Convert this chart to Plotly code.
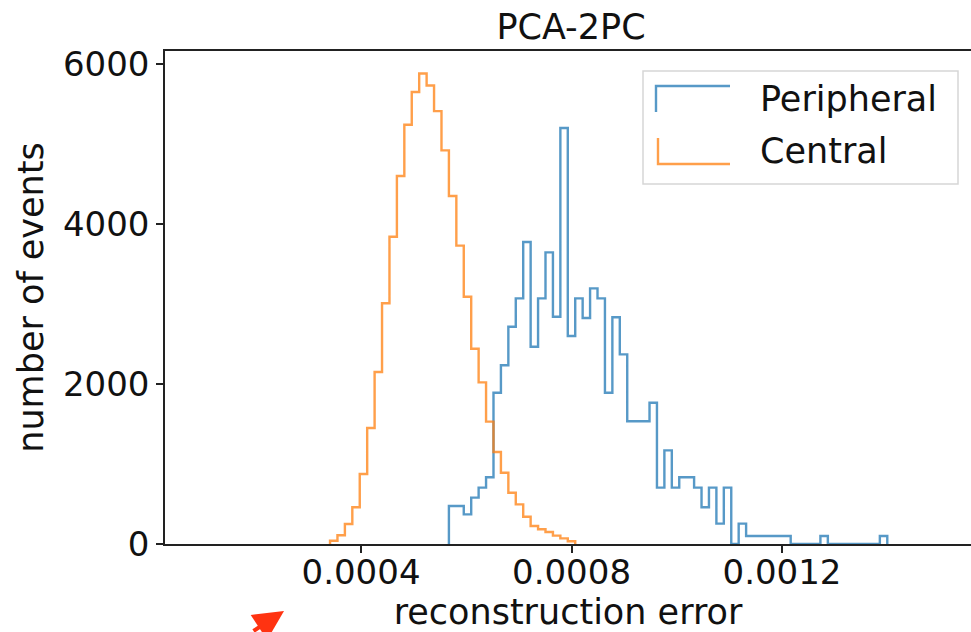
import numpy as np
import plotly.graph_objects as go

# ---------------- data ----------------
title_text = "PCA-2PC"
x_label = "reconstruction error"
y_label = "number of events"
series_names = ["Peripheral", "Central"]

# common histogram grid (reconstruction error)
bin_start = 0.00034109
bin_width = 1.4119e-5

# Central: counts per bin, starting at bin 0
central_first_bin = 0
central_counts = [40, 110, 250, 460, 875, 1450, 2150, 3010, 3840, 4600,
                  5240, 5650, 5880, 5730, 5410, 4920, 4350, 3730, 3090, 2440,
                  2020, 1530, 1150, 890, 640, 495, 340, 225, 185, 150,
                  105, 70, 35]

# Peripheral: counts per bin, starting at bin 16
peripheral_first_bin = 16
peripheral_counts = [475, 475, 370, 580, 705, 835, 1890, 2235, 2715, 3070,
                     3775, 2465, 3070, 3645, 2840, 5200, 2600, 3070, 2825, 3195,
                     3070, 1890, 2835, 2370, 1535, 1535, 1535, 1765, 705, 1170,
                     705, 835, 835, 705, 460, 705, 255, 705, 0, 255,
                     100, 100, 100, 100, 100, 100, 0, 0, 0, 0,
                     100, 0, 0, 0, 0, 0, 0, 0, 100]

x_ticks = [0.0004, 0.0008, 0.0012]
x_tick_labels = ["0.0004", "0.0008", "0.0012"]
y_ticks = [0, 2000, 4000, 6000]
y_tick_labels = ["0", "2000", "4000", "6000"]

# ---------------- styling ----------------
W, H = 971, 632
ML, MR, MT, MB = 165, 0, 51, 88
PW, PH = W - ML - MR, H - MT - MB
FONT = "DejaVu Sans"
BLUE = "rgba(31,119,180,0.75)"
ORANGE = "rgba(255,127,14,0.75)"


def step_outline(first_bin, counts):
    n = len(counts)
    edges = bin_start + bin_width * (first_bin + np.arange(n + 1))
    xs = [edges[0]] + list(edges)
    ys = [0] + list(counts) + [0]
    return xs, ys


def px(xp):
    return (xp - ML) / PW


def py(yp):
    return (MT + PH - yp) / PH


fig = go.Figure()
for name, fb, cnt, col in [("Peripheral", peripheral_first_bin, peripheral_counts, BLUE),
                           ("Central", central_first_bin, central_counts, ORANGE)]:
    xs, ys = step_outline(fb, cnt)
    fig.add_trace(go.Scatter(x=xs, y=ys, mode="lines", name=name,
                             line=dict(color=col, width=2.4, shape="hv"),
                             showlegend=False, hoverinfo="skip"))

# custom legend (matplotlib-like)
shapes = []
shapes.append(dict(type="rect", xref="paper", yref="paper",
                   x0=px(643), x1=px(958), y0=py(184), y1=py(71),
                   line=dict(color="#d6d6d6", width=1.5), fillcolor="rgba(255,255,255,0.85)",
                   layer="above"))
shapes.append(dict(type="path", xref="paper", yref="paper",
                   path=f"M{px(656)},{py(112)} L{px(656)},{py(86)} L{px(730)},{py(86)}",
                   line=dict(color=BLUE, width=2.4), layer="above"))
shapes.append(dict(type="path", xref="paper", yref="paper",
                   path=f"M{px(658)},{py(138)} L{px(658)},{py(164)} L{px(730)},{py(164)}",
                   line=dict(color=ORANGE, width=2.4), layer="above"))

annotations = [
    dict(text=series_names[0], xref="paper", yref="paper", x=px(758), y=py(99),
         xanchor="left", yanchor="middle", showarrow=False,
         font=dict(family=FONT, size=35, color="#111")),
    dict(text=series_names[1], xref="paper", yref="paper", x=px(758), y=py(151),
         xanchor="left", yanchor="middle", showarrow=False,
         font=dict(family=FONT, size=35, color="#111")),
    # red arrow in the corner
    dict(text="", xref="paper", yref="paper", x=px(284), y=py(611),
         ax=-32, ay=30, showarrow=True, arrowhead=2, arrowsize=1.5,
         arrowwidth=4, arrowcolor="#ff3311"),
]

fig.update_layout(
    width=W, height=H,
    margin=dict(l=ML, r=MR, t=MT, b=MB, autoexpand=False),
    paper_bgcolor="white", plot_bgcolor="white",
    font=dict(family=FONT, size=34, color="#111"),
    title=dict(text=title_text, x=571 / W, xanchor="center", xref="container",
               y=1 - 27 / H, yanchor="middle", yref="container",
               font=dict(family=FONT, size=35, color="#111")),
    shapes=shapes, annotations=annotations, showlegend=False,
)
fig.update_xaxes(range=[0.0000275, 0.0015591], tickvals=x_ticks, ticktext=x_tick_labels,
                 showline=True, linecolor="#222", linewidth=1.5, mirror=True,
                 ticks="outside", ticklen=7, tickwidth=1.5, tickcolor="#222",
                 ticklabelstandoff=-10,
                 showgrid=False, zeroline=False,
                 tickfont=dict(family=FONT, size=34, color="#111"),
                 title=dict(text=x_label, standoff=14,
                            font=dict(family=FONT, size=35, color="#111")))
fig.update_yaxes(range=[0, 6162], tickvals=y_ticks, ticktext=y_tick_labels,
                 showline=True, linecolor="#222", linewidth=1.5, mirror=False,
                 ticks="outside", ticklen=7, tickwidth=1.5, tickcolor="#222",
                 showgrid=False, zeroline=False,
                 tickfont=dict(family=FONT, size=34, color="#111"),
                 title=dict(text=y_label, standoff=9,
                            font=dict(family=FONT, size=35, color="#111")))

fig.write_html("out.html")
